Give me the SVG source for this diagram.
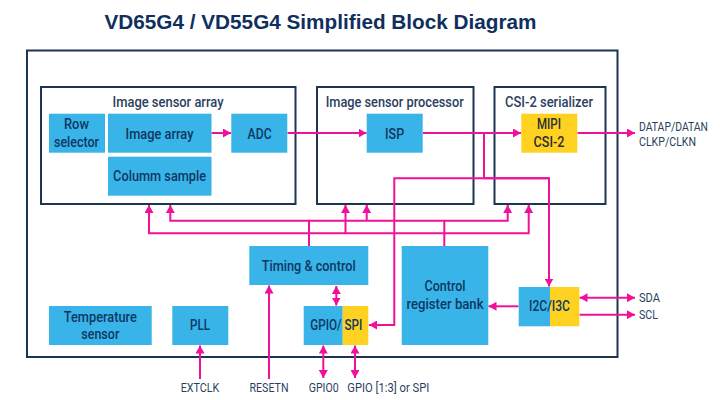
<svg xmlns="http://www.w3.org/2000/svg" width="720" height="400" viewBox="0 0 720 400">
<style>
text{font-family:"Roboto","Liberation Sans",sans-serif;text-anchor:middle}
.t{font-size:15px;font-weight:500;fill:#0f3763}
.k{fill:#2a2f33}
.h{font-size:14px;font-weight:500;fill:#2b3f5e}
.p{font-size:13px;font-weight:400;fill:#2b3f5e}
.l{text-anchor:start}
.frame{fill:#fff;stroke:#1c3553;stroke-width:2}
.b{fill:#38b4e8}
.y{fill:#ffd221}
.c path{fill:none;stroke:#f0119b;stroke-width:2}
.ah{marker-end:url(#a)}
.dh{marker-start:url(#s);marker-end:url(#a)}
</style>
<defs>
<marker id="a" markerUnits="userSpaceOnUse" markerWidth="9" markerHeight="9" refX="8" refY="4.5" orient="auto"><path d="M0,0L8,4.5L0,9z" fill="#f0119b"/></marker>
<marker id="s" markerUnits="userSpaceOnUse" markerWidth="9" markerHeight="9" refX="0" refY="4.5" orient="auto"><path d="M8,0L0,4.5L8,9z" fill="#f0119b"/></marker>
</defs>
<rect width="720" height="400" fill="#fff"/>
<text x="320.5" y="29" textLength="432" lengthAdjust="spacingAndGlyphs" style="font-family:'Liberation Sans',sans-serif;font-size:20.5px;font-weight:700;fill:#0f2f5e">VD65G4 / VD55G4 Simplified Block Diagram</text>
<rect id="chip" class="frame" x="27" y="50.5" width="590.5" height="306.5"/>
<g id="image-sensor-array"><rect class="frame" x="41" y="87" width="254.5" height="117"/><text class="h" x="168" y="107.3" textLength="111" lengthAdjust="spacingAndGlyphs">Image sensor array</text></g>
<g id="image-sensor-processor"><rect class="frame" x="317" y="87" width="156.5" height="117"/><text class="h" x="394.7" y="107.3" textLength="138" lengthAdjust="spacingAndGlyphs">Image sensor processor</text></g>
<g id="csi-serializer"><rect class="frame" x="494.5" y="87" width="111" height="117"/><text class="h" x="549" y="107.3" textLength="88" lengthAdjust="spacingAndGlyphs">CSI-2 serializer</text></g>
<g id="connectors" class="c">
<path class="ah" d="M211.5 133H231"/>
<path class="ah" d="M287.5 133H366.5"/>
<path class="ah" d="M423 133H521"/>
<path class="ah" d="M577.5 133H635"/>
<path d="M484 133V178.3"/>
<path class="ah" d="M549 178.3H394.3V325H369"/>
<path class="ah" d="M484 178.3H549V286.5"/>
<path class="ah" d="M309 246V220.7H170.3V205"/>
<path class="ah" d="M309 220.7H507.7V205"/>
<path class="ah" d="M366.7 220.7V205"/>
<path class="ah" d="M309 246V233.3H149V205"/>
<path class="ah" d="M309 233.3H528.7V205"/>
<path class="ah" d="M345.5 233.3V205"/>
<path d="M444.3 246V220.7"/>
<path class="dh" d="M336.3 286V305.5"/>
<path class="ah" d="M269 379V285.5"/>
<path class="ah" d="M200 379V345.5"/>
<path class="dh" d="M323.3 345.5V378"/>
<path class="dh" d="M355 345.5V378"/>
<path class="ah" d="M518.5 306.3H488.5"/>
<path class="dh" d="M579.5 297.7H635"/>
<path class="ah" d="M579.5 314.7H635"/>
</g>
<g id="row-selector"><rect class="b" x="49" y="113.7" width="56" height="39"/><text class="t" x="76.5" y="129.3" textLength="25" lengthAdjust="spacingAndGlyphs">Row</text><text class="t" x="76.5" y="146.7" textLength="45" lengthAdjust="spacingAndGlyphs">selector</text></g>
<g id="image-array"><rect class="b" x="108" y="113.7" width="103.5" height="39"/><text class="t" x="159.5" y="138.5" textLength="68" lengthAdjust="spacingAndGlyphs">Image array</text></g>
<g id="column-sample"><rect class="b" x="108" y="156.7" width="103.5" height="39"/><text class="t" x="159.6" y="180.7" textLength="93" lengthAdjust="spacingAndGlyphs">Columm sample</text></g>
<g id="adc"><rect class="b" x="231.3" y="113.7" width="56" height="39"/><text class="t" x="259.6" y="138.5" textLength="24" lengthAdjust="spacingAndGlyphs">ADC</text></g>
<g id="isp"><rect class="b" x="366.7" y="113.7" width="56" height="39"/><text class="t" x="394.6" y="138.5" textLength="19" lengthAdjust="spacingAndGlyphs">ISP</text></g>
<g id="mipi"><rect class="y" x="521.3" y="113.7" width="56" height="39"/><text class="t k" x="549" y="129.3" textLength="24" lengthAdjust="spacingAndGlyphs">MIPI</text><text class="t k" x="549" y="146.7" textLength="31" lengthAdjust="spacingAndGlyphs">CSI-2</text></g>
<g id="timing"><rect class="b" x="249.3" y="246" width="119" height="39"/><text class="t" x="308.7" y="270.7" textLength="94" lengthAdjust="spacingAndGlyphs">Timing &amp; control</text></g>
<g id="control-register"><rect class="b" x="401.7" y="246" width="86.6" height="99"/><text class="t" x="445" y="291.2" textLength="41" lengthAdjust="spacingAndGlyphs">Control</text><text class="t" x="445" y="308.6" textLength="77" lengthAdjust="spacingAndGlyphs">register bank</text></g>
<g id="temperature"><rect class="b" x="49" y="306" width="102.7" height="39"/><text class="t" x="100.3" y="321.7" textLength="73" lengthAdjust="spacingAndGlyphs">Temperature</text><text class="t" x="100.3" y="338.7" textLength="38" lengthAdjust="spacingAndGlyphs">sensor</text></g>
<g id="pll"><rect class="b" x="172.3" y="306" width="56" height="39"/><text class="t" x="200" y="330" textLength="20" lengthAdjust="spacingAndGlyphs">PLL</text></g>
<g id="gpio-spi"><rect class="b" x="303.7" y="306" width="39" height="39"/><rect class="y" x="342.7" y="306" width="25.6" height="39"/><text class="t" x="336.3" y="330" textLength="52" lengthAdjust="spacingAndGlyphs">GPIO/ SPI</text></g>
<g id="i2c-i3c"><rect class="b" x="518.7" y="287" width="31.3" height="39.3"/><rect class="y" x="550" y="287" width="29.3" height="39.3"/><text class="t" x="549.5" y="310.7" textLength="41" lengthAdjust="spacingAndGlyphs">I2C/I3C</text></g>
<g id="pins">
<text class="p l" x="639" y="131" textLength="69" lengthAdjust="spacingAndGlyphs" style="font-size:12px">DATAP/DATAN</text>
<text class="p l" x="639" y="146" textLength="57" lengthAdjust="spacingAndGlyphs">CLKP/CLKN</text>
<text class="p l" x="639" y="302" textLength="21" lengthAdjust="spacingAndGlyphs">SDA</text>
<text class="p l" x="639" y="319" textLength="19" lengthAdjust="spacingAndGlyphs">SCL</text>
<text class="p" x="200" y="391.5" textLength="38.6" lengthAdjust="spacingAndGlyphs">EXTCLK</text>
<text class="p" x="269" y="391.5" textLength="39" lengthAdjust="spacingAndGlyphs">RESETN</text>
<text class="p" x="323.7" y="391.5" textLength="30" lengthAdjust="spacingAndGlyphs">GPIO0</text>
<text class="p l" x="347.3" y="391.5" textLength="82" lengthAdjust="spacingAndGlyphs">GPIO [1:3] or SPI</text>
</g>
</svg>
